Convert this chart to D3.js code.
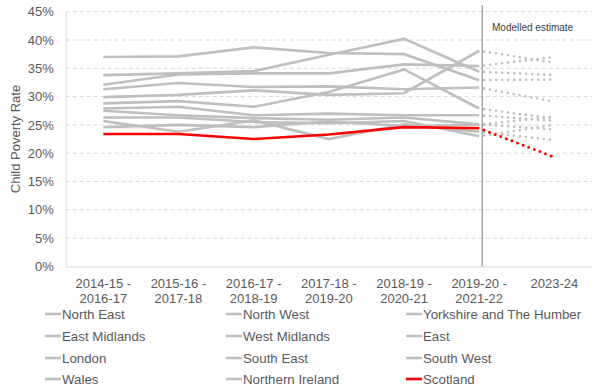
<!DOCTYPE html>
<html><head><meta charset="utf-8">
<script src="https://cdn.jsdelivr.net/npm/d3@7"></script>
<style>
html,body{margin:0;padding:0;background:#fff;}
svg{display:block;font-family:"Liberation Sans",Arial,sans-serif;}
</style></head>
<body><svg id="c" width="600" height="391"></svg>
<script>
const categories = ["2014-15 - 2016-17","2015-16 - 2017-18","2016-17 - 2018-19","2017-18 - 2019-20","2018-19 - 2020-21","2019-20 - 2021-22","2023-24"];
const catLines = [["2014-15 -","2016-17"],["2015-16 -","2017-18"],["2016-17 -","2018-19"],["2017-18 -","2019-20"],["2018-19 -","2020-21"],["2019-20 -","2021-22"],["2023-24"]];
const yTicks = [0,0.05,0.10,0.15,0.20,0.25,0.30,0.35,0.40,0.45];
const seriesNames = ["North East","North West","Yorkshire and The Humber","East Midlands","West Midlands","East","London","South East","South West","Wales","Northern Ireland","Scotland"];
// observed 3-year averages (first 6 categories)
const northEast   = [0.299,0.303,0.311,0.303,0.306,0.381];
const northWest   = [0.321,0.339,0.341,0.341,0.357,0.354];
const yorkshire   = [0.313,0.324,0.317,0.318,0.313,0.316];
const eastMid     = [0.288,0.292,0.282,0.308,0.348,0.279];
const westMid     = [0.338,0.341,0.345,0.374,0.402,0.344];
const east        = [0.263,0.263,0.255,0.253,0.257,0.230];
const london      = [0.370,0.371,0.387,0.377,0.375,0.329];
const southEast   = [0.246,0.250,0.246,0.256,0.248,0.250];
const southWest   = [0.257,0.238,0.258,0.225,0.251,0.238];
const wales       = [0.279,0.282,0.267,0.270,0.267,0.267];
const nIreland    = [0.275,0.267,0.262,0.259,0.263,0.251];
const scotland    = [0.234,0.234,0.225,0.233,0.246,0.244];
// modelled estimate 2023-24
const modelled2324 = [0.360,0.370,0.291,0.261,0.338,0.250,0.330,0.265,0.223,0.257,0.242,0.193];

const series = [northEast,northWest,yorkshire,eastMid,westMid,east,london,southEast,southWest,wales,nIreland,scotland];

const svg = d3.select("#c");
const pLeft = 65.7, pRight = 592, pTop = 11.7, pBottom = 266.4;
const x = d3.scaleBand().domain(categories).range([pLeft,pRight]).padding(0);
const cx = c => x(c) + x.bandwidth()/2;
const y = d3.scaleLinear().domain([0,0.45]).range([pBottom,pTop]);
const textCol = "#595959";

// gridlines
svg.append("g").selectAll("line").data(yTicks.filter(t=>t>0)).join("line")
  .attr("x1",pLeft).attr("x2",pRight).attr("y1",d=>y(d)).attr("y2",d=>y(d))
  .attr("stroke","#d9d9d9").attr("stroke-width",1).attr("stroke-dasharray","4,3");

// y axis
const yAxis = svg.append("g").attr("transform",`translate(${pLeft},0)`)
  .call(d3.axisLeft(y).tickValues(yTicks).tickFormat(d3.format(".0%")).tickSize(0).tickPadding(12));
yAxis.select(".domain").attr("stroke","#d9d9d9");
yAxis.selectAll("text").attr("fill",textCol).style("font-size","13px").style("font-family","Liberation Sans, Arial, sans-serif");

// x axis
const xAxis = svg.append("g").attr("transform",`translate(0,${pBottom})`)
  .call(d3.axisBottom(x).tickSize(0).tickFormat(""));
xAxis.select(".domain").attr("stroke","#d9d9d9");
const xl = svg.append("g");
categories.forEach((c,i)=>{
  const t = xl.append("text").attr("x",cx(c)).attr("y",288).attr("text-anchor","middle")
    .attr("fill",textCol).style("font-size","13px");
  catLines[i].forEach((s,j)=>t.append("tspan").attr("x",cx(c)).attr("dy",j===0?0:14.5).text(s));
});

// y title
svg.append("text").attr("transform",`translate(20,${(pTop+pBottom)/2}) rotate(-90)`)
  .attr("text-anchor","middle").attr("fill",textCol).style("font-size","13px").text("Child Poverty Rate");

// modelled separator
svg.append("line").attr("x1",cx(categories[5])+3).attr("x2",cx(categories[5])+3)
  .attr("y1",5).attr("y2",pBottom).attr("stroke","#808080").attr("stroke-width",1);
svg.append("text").attr("x",492).attr("y",31).attr("fill","#404040").style("font-size","10px").text("Modelled estimate");

const line = d3.line().x(d=>cx(d.c)).y(d=>y(d.v));
const grey = "#bfbfbf", red = "#ff0000";

// dotted projections
series.forEach((s,i)=>{
  const isScot = seriesNames[i]==="Scotland";
  svg.append("path").datum([{c:categories[5],v:s[5]},{c:categories[6],v:modelled2324[i]}])
    .attr("d",line).attr("fill","none").attr("stroke",isScot?red:grey)
    .attr("stroke-width",isScot?3:2.6).attr("stroke-linecap","round")
    .attr("stroke-dasharray","0,6").attr("stroke-dashoffset",-5);
});
// solid lines
series.forEach((s,i)=>{
  if(seriesNames[i]==="Scotland") return;
  svg.append("path").datum(s.map((v,j)=>({c:categories[j],v})))
    .attr("d",line).attr("fill","none").attr("stroke",grey).attr("stroke-width",2.6);
});
svg.append("path").datum(scotland.map((v,j)=>({c:categories[j],v})))
  .attr("d",line).attr("fill","none").attr("stroke",red).attr("stroke-width",2.6);

// legend
const colX = [45,226,406], rowY = [314,336,358,379];
seriesNames.forEach((n,i)=>{
  const col = i%3, row = Math.floor(i/3);
  const g = svg.append("g").attr("transform",`translate(${colX[col]},${rowY[row]})`);
  g.append("line").attr("x1",0).attr("x2",16).attr("y1",0).attr("y2",0)
    .attr("stroke",n==="Scotland"?red:grey).attr("stroke-width",2.6);
  g.append("text").attr("x",17).attr("y",0).attr("dy","0.35em").attr("fill",textCol)
    .style("font-size","13.3px").text(n);
});
</script></body></html>
